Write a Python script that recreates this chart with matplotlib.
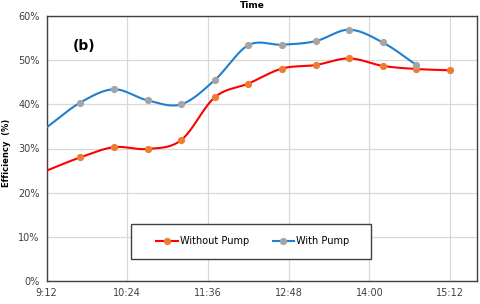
import numpy as np
import matplotlib
matplotlib.use("Agg")
import matplotlib.pyplot as plt
from matplotlib.lines import Line2D
from matplotlib.patches import Rectangle

# Data (time in minutes since midnight, efficiency %)
times = ["9:12", "9:42", "10:12", "10:42", "11:12", "11:42", "12:12",
         "12:42", "13:12", "13:42", "14:12", "14:42", "15:12"]
without_pump = [25.0, 28.0, 30.3, 29.9, 31.9, 41.6, 44.7, 48.1, 48.9, 50.4, 48.7, 48.0, 47.7]
with_pump = [34.8, 40.4, 43.4, 40.9, 40.0, 45.5, 53.4, 53.5, 54.3, 56.9, 54.0, 48.9]
xtick_labels = ["9:12", "10:24", "11:36", "12:48", "14:00", "15:12"]
yticks = [0, 10, 20, 30, 40, 50, 60]


def to_min(s):
    h, m = s.split(":")
    return int(h) * 60 + int(m)


def smooth(x, y, n=20):
    # Catmull-Rom style smoothing (like Excel smoothed lines)
    x = np.asarray(x, float)
    y = np.asarray(y, float)
    px = np.concatenate([[2 * x[0] - x[1]], x, [2 * x[-1] - x[-2]]])
    py = np.concatenate([[2 * y[0] - y[1]], y, [2 * y[-1] - y[-2]]])
    xs, ys = [], []
    t = np.linspace(0, 1, n)
    for i in range(1, len(px) - 2):
        p0, p1, p2, p3 = (np.array([px[j], py[j]]) for j in range(i - 1, i + 3))
        m1 = (p2 - p0) / 2
        m2 = (p3 - p1) / 2
        h00 = 2 * t**3 - 3 * t**2 + 1
        h10 = t**3 - 2 * t**2 + t
        h01 = -2 * t**3 + 3 * t**2
        h11 = t**3 - t**2
        pts = (np.outer(h00, p1) + np.outer(h10, m1) + np.outer(h01, p2) + np.outer(h11, m2))
        xs.extend(pts[:, 0])
        ys.extend(pts[:, 1])
    return np.array(xs), np.array(ys)


tx = [to_min(t) for t in times]
tx_with = tx[:len(with_pump)]

W, H = 480, 304
fig = plt.figure(figsize=(4.8, 3.04), dpi=100)
ax = fig.add_axes([46.7 / W, 1 - 281 / H, (477 - 46.7) / W, (281 - 16) / H])

red = "#FF0000"
orange = "#ED7D31"
blue = "#1F7FCF"
gray = "#A5A5A5"

sx, sy = smooth(tx, without_pump)
ax.plot(sx, sy, color=red, lw=1.5, zorder=3)
ax.plot(tx[1:], without_pump[1:], ls="none", marker="o", ms=4.2, color=orange, zorder=4)

bx, by = smooth(tx_with, with_pump)
ax.plot(bx, by, color=blue, lw=1.5, zorder=3)
ax.plot(tx_with[1:], with_pump[1:], ls="none", marker="o", ms=4.2, color=gray, zorder=4)

xt = [to_min(t) for t in xtick_labels]
ax.set_xlim(to_min("9:12"), to_min("15:36"))
ax.set_ylim(0, 60)
ax.set_xticks(xt)
ax.set_xticklabels(xtick_labels)
ax.set_yticks(yticks)
ax.set_yticklabels([f"{v}%" for v in yticks])
ax.grid(True, color="#D9D9D9", lw=0.9)
ax.set_axisbelow(True)
ax.tick_params(length=0, labelsize=7, colors="#404040", pad=5)
for s in ax.spines.values():
    s.set_color("#404040")
    s.set_linewidth(1.0)

fig.text(7 / W, 1 - 153 / H, "Efficiency  (%)", rotation=90, ha="center", va="center",
         fontsize=6, fontweight="bold")
fig.text(252 / W, 1 - 6 / H, "Time", ha="center", va="center", fontsize=6.5, fontweight="bold")
ax.text(0.06, 0.885, "(b)", transform=ax.transAxes, fontsize=10, fontweight="bold", ha="left", va="center")

# legend box
fig.patches.append(Rectangle((130.7 / W, 1 - 258.5 / H), (370.7 - 130.7) / W, (258.5 - 224) / H,
                             transform=fig.transFigure, facecolor="white", edgecolor="#404040",
                             lw=1.0, zorder=5))
handles = [
    Line2D([], [], color=red, lw=1.5, marker="o", ms=4.2, mfc=orange, mec=orange),
    Line2D([], [], color=blue, lw=1.5, marker="o", ms=4.2, mfc=gray, mec=gray),
]
leg = fig.legend(handles, ["Without Pump", "With Pump"], ncol=2, fontsize=7,
                 loc="center", bbox_to_anchor=(253 / W, 1 - 241.3 / H),
                 frameon=False, handlelength=2.2, columnspacing=2.4, handletextpad=0.25,
                 borderpad=0, borderaxespad=0)
leg.set_zorder(6)

fig.savefig("out.png", dpi=100)
